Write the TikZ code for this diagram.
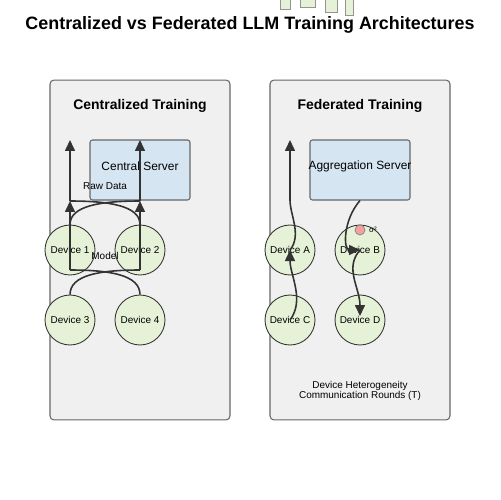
\documentclass[tikz,border=0pt]{standalone}
\usepackage{fontspec}
\setmainfont{Liberation Sans}
\usepackage{tikz}
\usetikzlibrary{arrows.meta}

\definecolor{panelgray}{HTML}{F0F0F0}
\definecolor{edgegray}{HTML}{666666}
\definecolor{serverblue}{HTML}{D5E6F2}
\definecolor{devicegreen}{HTML}{E6F2D7}
\definecolor{linegray}{HTML}{333333}
\definecolor{dotred}{HTML}{F4A0A0}

\begin{document}
\begin{tikzpicture}[x=0.02cm, y=-0.02cm,
  panel/.style={draw=edgegray, fill=panelgray, rounded corners=0.08cm,
    minimum width=3.6cm, minimum height=6.8cm, line width=0.6pt},
  server/.style={draw=edgegray, fill=serverblue, rounded corners=0.05cm,
    minimum width=2cm, minimum height=1.2cm, line width=0.6pt},
  device/.style={circle, draw=linegray, fill=devicegreen, minimum size=1cm,
    inner sep=0pt, line width=0.5pt, font=\fontsize{5.67pt}{6.5pt}\selectfont},
  head/.style={font=\fontsize{7.94pt}{9pt}\selectfont\bfseries},
  servertext/.style={font=\fontsize{6.8pt}{8pt}\selectfont},
  small/.style={font=\fontsize{5.67pt}{5.67pt}\selectfont, inner sep=0pt},
  link/.style={draw=linegray, line width=0.9pt},
  flow/.style={link, -{Triangle[length=0.22cm, width=0.2cm]}},
  icon/.style={draw=edgegray!70, fill=devicegreen, line width=0.5pt},
  dot/.style={circle, draw=edgegray!80, fill=dotred, minimum size=0.2cm,
    inner sep=0pt, line width=0.4pt}]
\useasboundingbox (0,0) rectangle (500,500);

% little icons at the top
\draw[icon] (280,-3) rectangle (290,9);
\draw[icon] (300,-3) rectangle (315,7);
\draw[icon] (325,-3) rectangle (337,12);
\draw[icon] (345,-3) rectangle (353,15);

\node (title) at (250,25) [font=\fontsize{10.2pt}{12pt}\selectfont\bfseries]
  {Centralized vs Federated LLM Training Architectures};

% centralized side
\node (cpanel) at (140,250) [panel] {};
\node (ctitle) at (140,106) [head] {Centralized Training};
\node (cserver) at (140,170) [server] {};
\node (cserverlbl) at (140,166) [servertext] {Central Server};

\node (dev1) at (70,250) [device] {Device 1};
\node (dev2) at (140,250) [device] {Device 2};
\node (dev3) at (70,320) [device] {Device 3};
\node (dev4) at (140,320) [device] {Device 4};

\coordinate (r1lo)  at (70,270);
\coordinate (r1mid) at (70,201);
\coordinate (r1top) at (70,140);
\coordinate (r2lo)  at (140,270);
\coordinate (r2mid) at (140,201);
\coordinate (r2top) at (140,140);

\path[flow] (r1lo) -- (r1mid);
\path[flow] (r1mid) -- (r1top);
\path[flow] (r2lo) -- (r2mid);
\path[flow] (r2mid) -- (r2top);

\path[link] (r1mid) .. controls (110,201) and (140,206) .. (dev2.north);
\path[link] (r2mid) .. controls (100,201) and (70,206) .. (dev1.north);
\path[link] (r1lo) .. controls (110,270) and (140,275) .. (dev4.north);
\path[link] (r2lo) .. controls (100,270) and (70,275) .. (dev3.north);

\node (rawlbl) at (105,186) [small] {Raw Data};
\node (modellbl) at (105,256) [small] {Model};

% federated side
\node (fpanel) at (360,250) [panel] {};
\node (ftitle) at (360,106) [head] {Federated Training};
\node (aserver) at (360,170) [server] {};
\node (aserverlbl) at (360,166) [servertext] {Aggregation Server};

\node (devA) at (290,250) [device] {Device A};
\node (devB) at (360,250) [device] {Device B};
\node (devC) at (290,320) [device] {Device C};
\node (devD) at (360,320) [device] {Device D};

\coordinate (aup)  at (290,200);
\coordinate (atop) at (290,140);
\coordinate (dtip) at (360,316);

\path[flow] (devC.center) .. controls (305,300) and (290,275) .. (devA.center);
\path[flow] (devA.center) .. controls (302,235) and (290,215) .. (aup) -- (atop);
\path[flow] (aserver.south) .. controls (343,220) and (343,250) .. (devB.center);
\path[flow] (devB.center) .. controls (344,268) and (360,288) .. (dtip);

\node (noise) at (360,230) [dot] {};
\node (noiselbl) at (373,230) [font=\fontsize{4.5pt}{5pt}\selectfont, inner sep=0pt] {σ²};

\node (hetlbl) at (360,391) [small, align=center]
  {Device Heterogeneity\\Communication Rounds (T)};
\end{tikzpicture}
\end{document}
